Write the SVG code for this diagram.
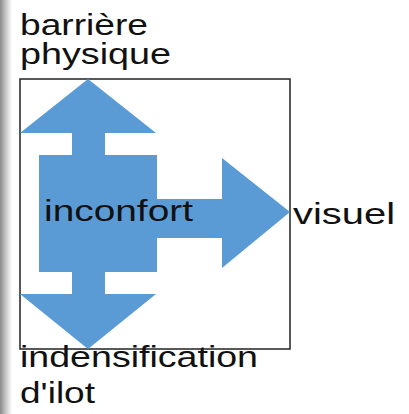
<svg xmlns="http://www.w3.org/2000/svg" width="409" height="414" viewBox="0 0 409 414">
<defs>
<linearGradient id="edge" x1="0" y1="0" x2="1" y2="0">
<stop offset="0" stop-color="#8a8a8a"/>
<stop offset="0.5" stop-color="#c8c8c8"/>
<stop offset="1" stop-color="#ffffff"/>
</linearGradient>
</defs>
<style>
.lbl{font-family:"Liberation Sans",Arial,sans-serif;font-size:30px;fill:#111}
.blue{fill:#5b9bd5}
</style>
<rect x="0" y="0" width="409" height="414" fill="#fff"/>
<rect x="0" y="0" width="12" height="414" fill="url(#edge)"/>
<g id="frame">
<rect x="20" y="79" width="270" height="270" fill="none" stroke="#222" stroke-width="1.5"/>
</g>
<g id="connectors">
<polygon class="blue" points="88,79 156,133 105,133 105,294 156,294 88,349 20,294 72,294 72,133 20,133"/>
<polygon class="blue" points="157,199 222,199 222,158 290,212 222,268 222,238 157,238"/>
</g>
<g id="inconfort">
<rect class="blue" x="39" y="155" width="118" height="117"/>
<text class="lbl" x="44" y="221" textLength="149" lengthAdjust="spacingAndGlyphs">inconfort</text>
</g>
<g id="barriere">
<text class="lbl" x="20" y="35" textLength="128" lengthAdjust="spacingAndGlyphs">barrière</text>
<text class="lbl" x="20" y="64" textLength="151" lengthAdjust="spacingAndGlyphs">physique</text>
</g>
<g id="visuel">
<text class="lbl" x="293" y="224" textLength="102" lengthAdjust="spacingAndGlyphs">visuel</text>
</g>
<g id="indensification">
<text class="lbl" x="20" y="367" textLength="238" lengthAdjust="spacingAndGlyphs">indensification</text>
<text class="lbl" x="20" y="403" textLength="75" lengthAdjust="spacingAndGlyphs">d'ilot</text>
</g>
</svg>
